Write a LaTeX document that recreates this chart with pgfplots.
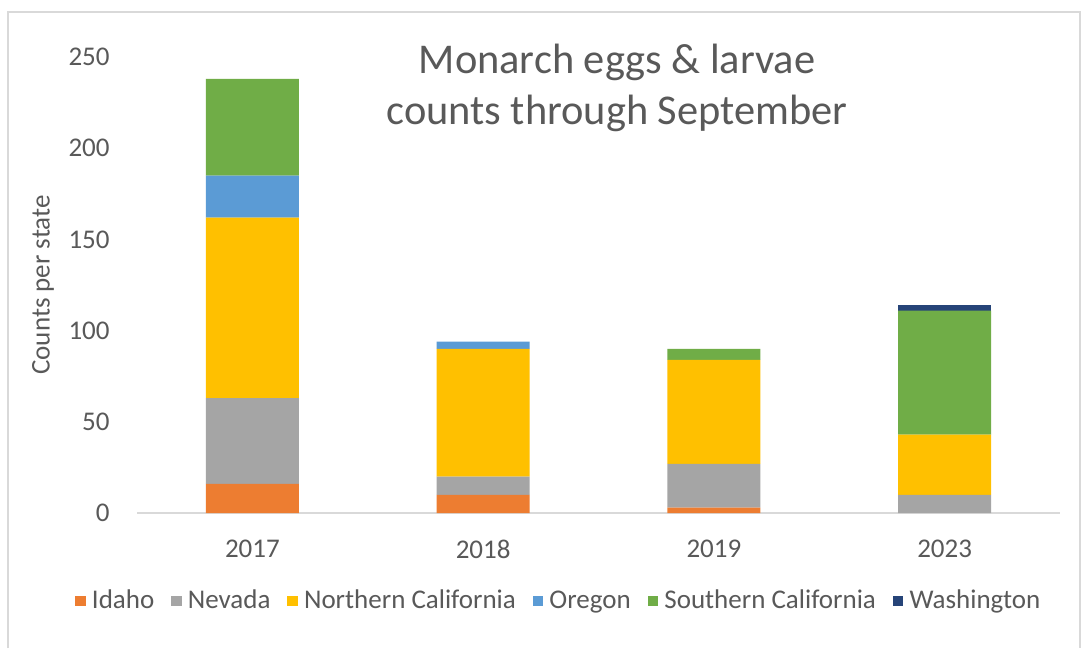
\documentclass[border=0pt]{standalone}
\usepackage{pgfplots}
\pgfplotsset{compat=1.18}
\usepackage{fontspec}
\setmainfont{Carlito}
\definecolor{cIdaho}{HTML}{ED7D31}
\definecolor{cNevada}{HTML}{A5A5A5}
\definecolor{cNorCal}{HTML}{FFC000}
\definecolor{cOregon}{HTML}{5B9BD5}
\definecolor{cSoCal}{HTML}{70AD47}
\definecolor{cWash}{HTML}{264478}
\definecolor{txt}{HTML}{595959}
\definecolor{frame}{HTML}{D9D9D9}
\begin{document}
\begin{tikzpicture}
\path[use as bounding box, fill=white] (0pt,0pt) rectangle (540.5pt,324pt);
\draw[frame, line width=0.8pt] (4pt,0pt) -- (4pt,318pt) -- (540pt,318pt) -- (540pt,0pt);
\begin{axis}[
  at={(68.5pt,67.5pt)}, anchor=south west,
  scale only axis, width=461.5pt, height=228pt,
  ybar stacked, bar width=46.5pt,
  xmin=-0.5, xmax=3.5, ymin=0, ymax=250,
  xtick={0,1,2,3}, xticklabels={2017,2018,2019,2023},
  ytick={0,50,100,150,200,250},
  axis x line*=bottom, axis y line*=left,
  x axis line style={draw=frame, line width=1pt, -},
  y axis line style={draw=none},
  major tick length=0pt,
  tick style={draw=none},
  /pgf/number format/assume math mode=true,
  ticklabel style={font=\fontsize{13.5}{16}\selectfont, text=txt, inner sep=0pt},
  yticklabel style={anchor=east, xshift=-13.5pt},
  xticklabel style={anchor=north, yshift=-13.5pt},
  clip=false,
  legend columns=6,
  legend style={at={(0.4575,-0.193)}, anchor=center, draw=none, fill=none,
    font=\fontsize{13.5}{16}\selectfont, text=txt,
    /tikz/every odd column/.append style={column sep=1.6pt},
    /tikz/every even column/.append style={column sep=7pt},
    nodes={inner sep=1.5pt}},
  legend image code/.code={\fill[#1] (0pt,-2.6pt) rectangle (5.2pt,2.6pt);},
]
\addplot[fill=cIdaho, draw=none] coordinates {(0,16) (1,10) (2,3) (3,0)};
\addplot[fill=cNevada, draw=none] coordinates {(0,47) (1,10) (2,24) (3,10)};
\addplot[fill=cNorCal, draw=none] coordinates {(0,99) (1,70) (2,57) (3,33)};
\addplot[fill=cOregon, draw=none] coordinates {(0,23) (1,4) (2,0) (3,0)};
\addplot[fill=cSoCal, draw=none] coordinates {(0,53) (1,0) (2,6) (3,68)};
\addplot[fill=cWash, draw=none] coordinates {(0,0) (1,0) (2,0) (3,3)};
\legend{Idaho,Nevada,Northern California,Oregon,Southern California,Washington}
\end{axis}
\node[text=txt, font=\fontsize{21.2}{25.5}\selectfont, align=center] at (308.5pt,280.25pt) {Monarch eggs \& larvae\\counts through September};
\node[text=txt, font=\fontsize{13.5}{16}\selectfont, rotate=90] at (21.5pt,181.5pt) {Counts per state};
\end{tikzpicture}
\end{document}
